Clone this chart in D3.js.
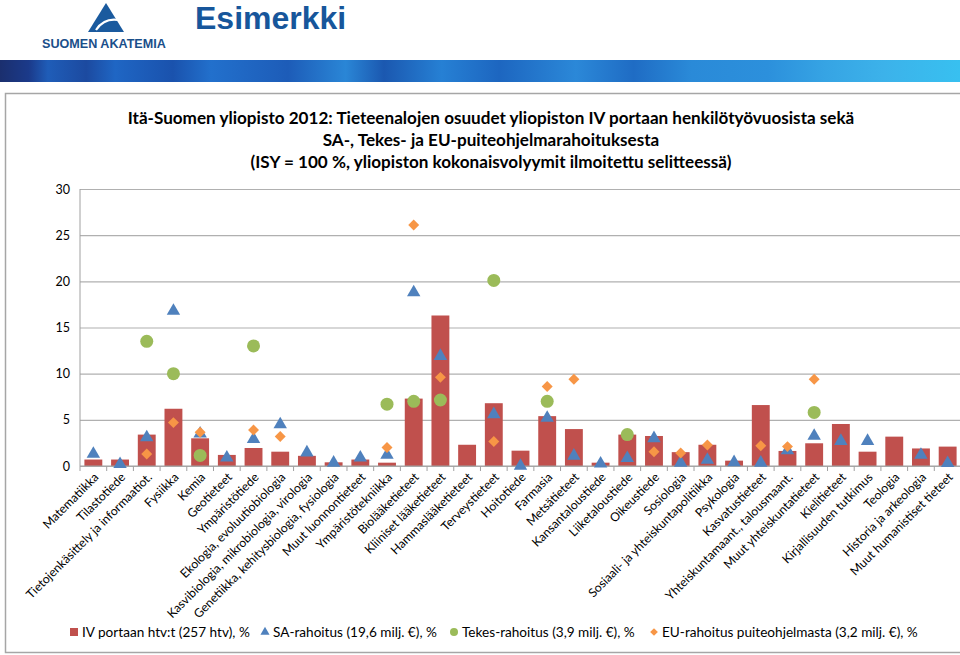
<!DOCTYPE html>
<html><head><meta charset="utf-8">
<script src="https://cdn.jsdelivr.net/npm/d3@7"></script>
<style>html,body{margin:0;padding:0;background:#fff;}svg{display:block;}</style>
</head><body>
<svg id="c" width="960" height="655"></svg>
<script>
const categories = ["Matematiikka","Tilastotiede","Tietojenkäsittely ja informaatiot.","Fysiikka","Kemia","Geotieteet","Ympäristötiede","Ekologia, evoluutiobiologia","Kasvibiologia, mikrobiologia, virologia","Genetiikka, kehitysbiologia, fysiologia","Muut luonnontieteet","Ympäristötekniikka","Biolääketieteet","Kliiniset lääketieteet","Hammaslääketieteet","Terveystieteet","Hoitotiede","Farmasia","Metsätieteet","Kansantaloustiede","Liiketaloustiede","Oikeustiede","Sosiologia","Sosiaali- ja yhteiskuntapolitiikka","Psykologia","Kasvatustieteet","Yhteiskuntamaant., talousmaant.","Muut yhteiskuntatieteet","Kielitieteet","Kirjallisuuden tutkimus","Teologia","Historia ja arkeologia","Muut humanistiset tieteet"];
const htv   = [0.7,0.7,3.4,6.2,3.0,1.2,1.95,1.55,1.1,0.4,0.7,0.36,7.3,16.3,2.3,6.8,1.66,5.4,4.0,0.36,3.4,3.25,1.5,2.3,0.58,6.6,1.63,2.46,4.55,1.55,3.18,1.9,2.1];
const sa    = [1.3,0.2,3.1,16.8,3.5,0.9,2.9,4.5,1.45,0.35,0.9,1.2,18.8,11.9,null,5.6,0.0,5.2,1.1,0.25,0.85,3.0,0.35,0.65,0.4,0.35,1.7,3.25,2.7,2.7,null,1.2,0.3];
const tekes = [null,null,13.5,10.0,1.15,null,13.0,null,null,null,null,6.7,7.0,7.15,null,20.1,null,7.0,null,null,3.4,null,null,null,null,null,null,5.8,null,null,null,null,null];
const eu    = [null,null,1.3,4.7,3.65,null,3.9,3.2,null,null,null,2.0,26.1,9.6,null,2.65,null,8.6,9.4,null,null,1.55,1.4,2.28,null,2.2,2.1,9.4,null,null,null,null,null];
const yTicks = [0,5,10,15,20,25,30];
const titleLines = ["Itä-Suomen yliopisto 2012: Tieteenalojen osuudet yliopiston IV portaan henkilötyövuosista sekä","SA-, Tekes- ja EU-puiteohjelmarahoituksesta","(ISY = 100 %, yliopiston kokonaisvolyymit ilmoitettu selitteessä)"];
const legendLabels = ["IV portaan htv:t (257 htv), %","SA-rahoitus (19,6 milj. €), %","Tekes-rahoitus (3,9 milj. €), %","EU-rahoitus puiteohjelmasta (3,2 milj. €), %"];

const C = {bar:"#C0504D", sa:"#4F81BD", tekes:"#9BBB59", eu:"#F79646"};
const svg = d3.select("#c");
const font = "Lato, 'Open Sans', sans-serif";

// Header
const grad = svg.append("defs").append("linearGradient").attr("id","stripe").attr("x1","0").attr("x2","1");
const stops = [[0,"#1b2f6e"],[0.03,"#1b3a8a"],[0.05,"#1f5db8"],[0.09,"#1c4aa0"],[0.12,"#1f66c4"],[0.18,"#1a52ad"],[0.22,"#2270cc"],[0.3,"#1d5cb8"],[0.36,"#2a86d6"],[0.4,"#1b58b0"],[0.46,"#2680d4"],[0.52,"#1d66c0"],[0.6,"#2b88d8"],[0.66,"#1f6cc4"],[0.72,"#2a8ad8"],[0.8,"#2c90dc"],[0.86,"#36a4e4"],[0.92,"#3cb2ea"],[1,"#38c0f0"]];
stops.forEach(s=>grad.append("stop").attr("offset",s[0]).attr("stop-color",s[1]));
svg.append("rect").attr("x",0).attr("y",60).attr("width",960).attr("height",22).attr("fill","url(#stripe)");
svg.append("path").attr("d","M106,3 L124,32 L88,32 Z").attr("fill","#1a5a9e");
svg.append("path").attr("d","M96,30 Q104,18 118,20").attr("stroke","#fff").attr("stroke-width",2.2).attr("fill","none");
svg.append("text").attr("x",42).attr("y",48).attr("font-family","'Liberation Sans', Arial, sans-serif").attr("font-weight","bold").attr("font-size",12.6).attr("fill","#1a4f8a").text("SUOMEN AKATEMIA");
svg.append("text").attr("x",195).attr("y",29).attr("font-family","'Liberation Sans', Arial, sans-serif").attr("font-weight","bold").attr("font-size",32).attr("fill","#17569b").text("Esimerkki");

// Chart frame
svg.append("rect").attr("x",5.5).attr("y",93.5).attr("width",970).attr("height",559).attr("fill","#fff").attr("stroke","#a6a6a6").attr("stroke-width",1.5);

// Title
svg.append("g").selectAll("text").data(titleLines).join("text")
  .attr("x",491).attr("y",(d,i)=>124+i*22).attr("text-anchor","middle")
  .attr("font-family",font).attr("font-weight","bold").attr("font-size",17.1).attr("fill","#000").text(d=>d);

const x0 = 80, x1 = 961, yTop = 189, yBot = 466;
const x = d3.scaleBand().domain(categories).range([x0,x1]).paddingInner(0.33).paddingOuter(0.165);
const y = d3.scaleLinear().domain([0,30]).range([yBot,yTop]);

// grid
const g = svg.append("g");
g.append("g").attr("transform",`translate(${x0},0)`)
  .call(d3.axisLeft(y).tickValues(yTicks).tickSize(-(960-x0)).tickPadding(10))
  .call(a=>a.select(".domain").remove())
  .call(a=>a.selectAll(".tick line").attr("stroke","#b0b0b0").attr("stroke-width",1.2))
  .call(a=>a.selectAll(".tick text").attr("font-family",font).attr("font-size",12.5).attr("fill","#000"));
g.append("line").attr("x1",x0).attr("x2",x0).attr("y1",yTop).attr("y2",yBot).attr("stroke","#a0a0a0");

// bars
g.append("g").selectAll("rect").data(categories).join("rect")
  .attr("x",d=>x(d)).attr("width",x.bandwidth())
  .attr("y",(d,i)=>y(htv[i])).attr("height",(d,i)=>y(0)-y(htv[i])).attr("fill",C.bar);

// x axis
const step = x.step();
g.append("line").attr("x1",x0).attr("x2",960).attr("y1",yBot).attr("y2",yBot).attr("stroke","#a0a0a0");
g.append("g").selectAll("line").data(d3.range(categories.length+1)).join("line")
  .attr("x1",i=>x0+i*step).attr("x2",i=>x0+i*step).attr("y1",yBot).attr("y2",yBot+5).attr("stroke","#a0a0a0");
g.append("g").selectAll("text").data(categories).join("text")
  .attr("transform",d=>`translate(${x(d)+x.bandwidth()/2+6},${yBot+12}) rotate(-45)`)
  .attr("text-anchor","end").attr("font-family",font).attr("font-size",12.2).attr("fill","#000").text(d=>d);

// markers
function pts(arr){ return categories.map((c,i)=>({c,v:arr[i]})).filter(d=>d.v!=null); }
const cx = d=>x(d.c)+x.bandwidth()/2;
const tri = d3.symbol().type(d3.symbolTriangle).size(78);
const dia = d3.symbol().type(d3.symbolSquare).size(60);
g.append("g").selectAll("path").data(pts(sa)).join("path")
  .attr("d",tri).attr("transform",d=>`translate(${cx(d)},${y(d.v)})`).attr("fill",C.sa);
g.append("g").selectAll("circle").data(pts(tekes)).join("circle")
  .attr("cx",cx).attr("cy",d=>y(d.v)).attr("r",6.5).attr("fill",C.tekes);
g.append("g").selectAll("path").data(pts(eu)).join("path")
  .attr("d",dia).attr("transform",d=>`translate(${cx(d)},${y(d.v)}) rotate(45)`).attr("fill",C.eu);

// legend
const lx = [74,265,454,654];
const leg = svg.append("g");
leg.append("rect").attr("x",lx[0]-4).attr("y",628).attr("width",8).attr("height",8).attr("fill",C.bar);
leg.append("path").attr("d",d3.symbol().type(d3.symbolTriangle).size(36)).attr("transform",`translate(${lx[1]},632)`).attr("fill",C.sa);
leg.append("circle").attr("cx",lx[2]).attr("cy",632).attr("r",4).attr("fill",C.tekes);
leg.append("path").attr("d",d3.symbol().type(d3.symbolSquare).size(30)).attr("transform",`translate(${lx[3]},632) rotate(45)`).attr("fill",C.eu);
leg.selectAll("text").data(legendLabels).join("text")
  .attr("x",(d,i)=>lx[i]+8).attr("y",637).attr("font-family",font).attr("font-size",13.6).attr("fill","#000").text(d=>d);
</script>
</body></html>
